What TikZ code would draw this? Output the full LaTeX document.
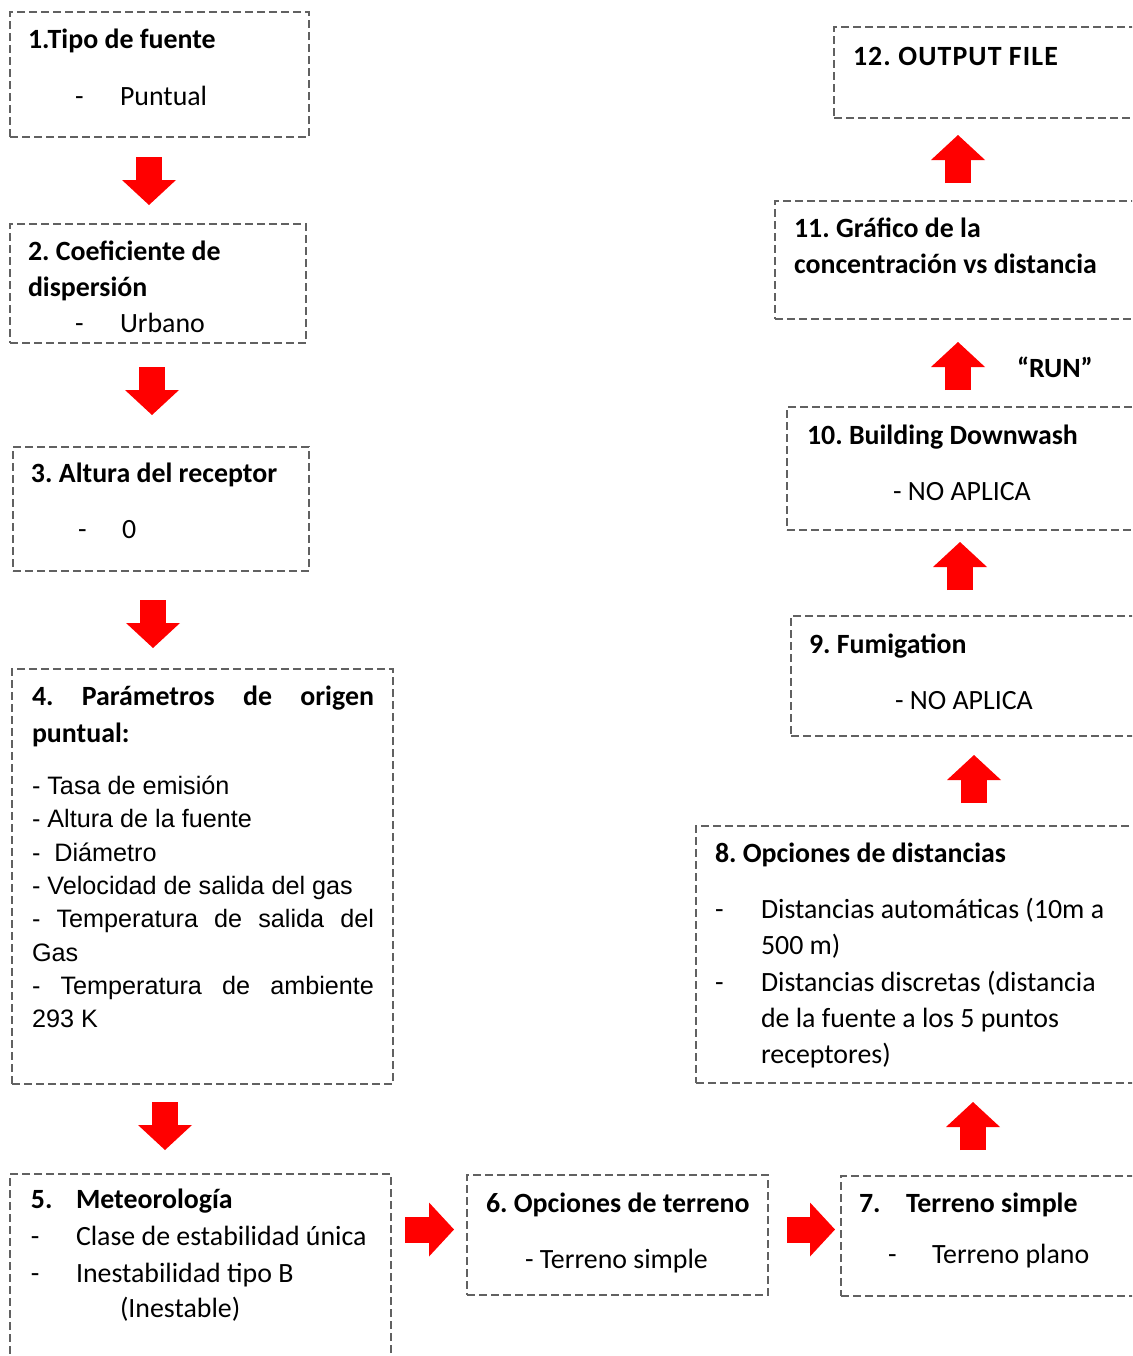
\documentclass[tikz,border=0pt]{standalone}
\usepackage{fontspec}
\setmainfont{Carlito}
\newfontfamily\listfont{Liberation Sans}
\usetikzlibrary{arrows.meta,fit}
\frenchspacing
\begin{document}
\begin{tikzpicture}[x=0.75pt,y=-0.75pt,
  box/.style={draw=black!62, line width=1.2pt, dash pattern=on 6pt off 3pt,
    inner sep=0pt, outer sep=0pt},
  txt/.style={anchor=base west, inner sep=0pt, outer sep=0pt,
    font=\fontsize{20.9}{24}\selectfont},
  head/.style={txt, font=\fontsize{20.9}{24}\selectfont\bfseries},
  lst/.style={txt, font=\fontsize{18.9}{22}\selectfont\listfont},
  flow/.style={draw=red, line width=19.5pt,
    -{Triangle[width=40.5pt,length=18.75pt,line width=0pt]}},
]
\useasboundingbox (0,0) rectangle (1132,1356);
\clip (0,0) rectangle (1132,1356);

% ---- boxes ----
\node[box, fit={(10,12) (309,137)}] (b1) {};
\node[box, fit={(10,224) (306,343)}] (b2) {};
\node[box, fit={(13,447) (309,571)}] (b3) {};
\node[box, fit={(12,669) (393,1084)}] (b4) {};
\node[box, fit={(10,1174) (391,1380)}] (b5) {};
\node[box, fit={(467,1175) (768,1295)}] (b6) {};
\node[box, fit={(841,1176) (1150,1296)}] (b7) {};
\node[box, fit={(696,826) (1150,1083)}] (b8) {};
\node[box, fit={(791,616) (1150,736)}] (b9) {};
\node[box, fit={(787,407) (1150,530)}] (b10) {};
\node[box, fit={(775,201) (1150,319)}] (b11) {};
\node[box, fit={(834,27) (1150,118)}] (b12) {};

% ---- texts ----
\node[head] (t1) at (28,48) {1.Tipo de fuente};
\node[txt] (t1a) at (75,105) {-};
\node[txt] (t1b) at (120,105) {Puntual};

\node[head] (t2) at (28,260) {2. Coeficiente de};
\node[head] (t2b) at (28,296) {dispersión};
\node[txt] (t2c) at (75,332) {-};
\node[txt] (t2d) at (120,332) {Urbano};

\node[head] (t3) at (31,482) {3. Altura del receptor};
\node[txt] (t3a) at (78,538) {-};
\node[txt] (t3b) at (122,538) {0};

\node[head] (t4) at (32,705) {\makebox[256.5pt][s]{4. Parámetros de origen}};
\node[head] (t4b) at (32,742) {puntual:};
\node[lst] (t4c) at (32,794) {- Tasa de emisión};
\node[lst] (t4d) at (32,827) {- Altura de la fuente};
\node[lst] (t4e) at (32,861) {-\ \ Diámetro};
\node[lst] (t4f) at (32,894) {- Velocidad de salida del gas};
\node[lst] (t4g) at (32,927) {\makebox[256.5pt][s]{- Temperatura de salida del}};
\node[lst] (t4h) at (32,961) {Gas};
\node[lst] (t4i) at (32,994) {\makebox[256.5pt][s]{- Temperatura de ambiente}};
\node[lst] (t4j) at (32,1027) {293 K};

\node[head] (t5) at (31,1208) {5.};
\node[head] (t5b) at (76,1208) {Meteorología};
\node[txt] (t5c) at (31,1245) {-};
\node[txt] (t5d) at (76,1245) {Clase de estabilidad única};
\node[txt] (t5e) at (31,1282) {-};
\node[txt] (t5f) at (76,1282) {Inestabilidad tipo B};
\node[txt] (t5g) at (120,1317) {(Inestable)};

\node[head] (t6) at (486,1212) {6. Opciones de terreno};
\node[txt] (t6b) at (525,1268) {- Terreno simple};

\node[head] (t7) at (859,1212) {7.};
\node[head] (t7b) at (906,1212) {Terreno simple};
\node[txt] (t7c) at (888,1263) {-};
\node[txt] (t7d) at (932,1263) {Terreno plano};

\node[head] (t8) at (715,862) {8. Opciones de distancias};
\node[txt] (t8a) at (715,918) {-};
\node[txt] (t8b) at (761,918) {Distancias automáticas (10m a};
\node[txt] (t8c) at (761,954) {500 m)};
\node[txt] (t8d) at (715,991) {-};
\node[txt] (t8e) at (761,991) {Distancias discretas (distancia};
\node[txt] (t8f) at (761,1027) {de la fuente a los 5 puntos};
\node[txt] (t8g) at (761,1063) {receptores)};

\node[head] (t9) at (809,653) {9. Fumigation};
\node[txt] (t9b) at (895,709) {- NO APLICA};

\node[head] (t10) at (807,444) {10. Building Downwash};
\node[txt] (t10b) at (893,500) {- NO APLICA};

\node[head] (run) at (1017,377) {“RUN”};

\node[head] (t11) at (794,237) {11. Gráfico de la};
\node[head] (t11b) at (794,273) {concentración vs distancia};

\node[head] (t12) at (853,65) {\addfontfeature{LetterSpace=4}12. OUTPUT FILE};

% ---- block arrows ----
\coordinate (c1) at (149,0);
\coordinate (c2) at (152,0);
\coordinate (c3) at (153,0);
\coordinate (c4) at (165,0);
\coordinate (r1) at (0,1229.5);
\coordinate (c7) at (973,0);
\coordinate (c8) at (974,0);
\coordinate (c9) at (960,0);
\coordinate (c10) at (958,0);

\draw[flow, shorten <=15pt, shorten >=14.25pt] (b1.south -| c1) -- (b2.north -| c1);
\draw[flow, shorten <=18pt, shorten >=24pt] (b2.south -| c2) -- (b3.north -| c2);
\draw[flow, shorten <=21.75pt, shorten >=15.75pt] (b3.south -| c3) -- (b4.north -| c3);
\draw[flow, shorten <=13.5pt, shorten >=18pt] (b4.south -| c4) -- (b5.north -| c4);
\draw[flow, shorten <=10.5pt, shorten >=9.75pt] (b5.east |- r1) -- (b6.west |- r1);
\draw[flow, shorten <=14.25pt, shorten >=4.5pt] (b6.east |- r1) -- (b7.west |- r1);
\draw[flow, shorten <=19.5pt, shorten >=14.25pt] (b7.north -| c7) -- (b8.south -| c7);
\draw[flow, shorten <=17.25pt, shorten >=14.25pt] (b8.north -| c8) -- (b9.south -| c8);
\draw[flow, shorten <=19.5pt, shorten >=9pt] (b9.north -| c9) -- (b10.south -| c9);
\draw[flow, shorten <=12.75pt, shorten >=17.25pt] (b10.north -| c10) -- (b11.south -| c10);
\draw[flow, shorten <=13.5pt, shorten >=12.75pt] (b11.north -| c10) -- (b12.south -| c10);
\end{tikzpicture}
\end{document}
